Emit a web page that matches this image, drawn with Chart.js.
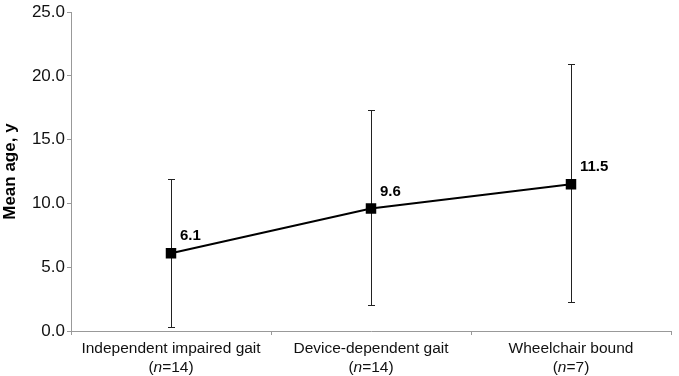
<!DOCTYPE html>
<html><head><meta charset="utf-8">
<script src="https://cdn.jsdelivr.net/npm/chart.js@4"></script>
<style>html,body{margin:0;padding:0;background:#fff}#wrap{width:679px;height:376px}</style>
</head><body><div id="wrap"><canvas id="c" width="679" height="376"></canvas></div>
<script>
const categories = ["Independent impaired gait", "Device-dependent gait", "Wheelchair bound"];
const sampleSizes = [14, 14, 7];
const meanAge = [6.1, 9.6, 11.5];
const errLow = [0.35, 2.0, 2.3];
const errHigh = [11.9, 17.3, 20.9];
const yMin = 0, yMax = 25, yStep = 5;

const FONT = '"Liberation Sans", Arial, Helvetica, sans-serif';

const errorBars = {
  id: 'errorBars',
  beforeDatasetsDraw(chart) {
    const ctx = chart.ctx, x = chart.scales.x, y = chart.scales.y;
    ctx.save();
    ctx.strokeStyle = '#222';
    ctx.lineWidth = 1;
    meanAge.forEach((v, i) => {
      const px = Math.round(x.getPixelForValue(i)) + 0.5;
      const t = Math.round(y.getPixelForValue(errHigh[i])) + 0.5;
      const b = Math.round(y.getPixelForValue(errLow[i])) + 0.5;
      ctx.beginPath();
      ctx.moveTo(px, t); ctx.lineTo(px, b);
      ctx.moveTo(px - 3.5, t); ctx.lineTo(px + 3.5, t);
      ctx.moveTo(px - 3.5, b); ctx.lineTo(px + 3.5, b);
      ctx.stroke();
    });
    ctx.restore();
  },
  afterDatasetsDraw(chart) {
    const ctx = chart.ctx, x = chart.scales.x, y = chart.scales.y;
    ctx.save();
    ctx.fillStyle = '#000';
    ctx.font = 'bold 15px ' + FONT;
    ctx.textAlign = 'left';
    ctx.textBaseline = 'alphabetic';
    meanAge.forEach((v, i) => {
      ctx.fillText(v.toFixed(1), x.getPixelForValue(i) + 9, y.getPixelForValue(v) - 13);
    });
    const F = '15.5px ' + FONT, FI = 'italic 15.5px ' + FONT;
    ctx.fillStyle = '#111';
    categories.forEach((c, i) => {
      const cx = x.getPixelForValue(i);
      ctx.textAlign = 'center';
      ctx.font = F;
      ctx.fillText(c, cx, 353);
      const p1 = '(', p2 = 'n', p3 = '=' + sampleSizes[i] + ')';
      ctx.font = F;
      const w1 = ctx.measureText(p1).width, w3 = ctx.measureText(p3).width;
      ctx.font = FI;
      const w2 = ctx.measureText(p2).width;
      let sx = cx - (w1 + w2 + w3) / 2;
      ctx.textAlign = 'left';
      ctx.font = F;
      ctx.fillText(p1, sx, 372);
      ctx.font = FI;
      ctx.fillText(p2, sx + w1, 372);
      ctx.font = F;
      ctx.fillText(p3, sx + w1 + w2, 372);
    });
    ctx.restore();
  }
};

new Chart(document.getElementById('c'), {
  type: 'line',
  data: {
    labels: categories,
    datasets: [{
      data: meanAge,
      borderColor: '#000',
      borderWidth: 2,
      pointStyle: 'rect',
      pointRadius: 6,
      pointBackgroundColor: '#000',
      pointBorderColor: '#000',
      tension: 0
    }]
  },
  options: {
    responsive: false,
    animation: false,
    devicePixelRatio: 1,
    layout: { padding: { top: 10, right: 4, left: 0, bottom: 0 } },
    plugins: { legend: { display: false }, tooltip: { enabled: false } },
    scales: {
      x: {
        type: 'category',
        offset: true,
        grid: { display: true, offset: true, drawOnChartArea: false, drawTicks: true, tickLength: 4, color: '#999' },
        border: { display: true, color: '#999', width: 1 },
        ticks: { display: false },
        afterFit(s) { s.height = 45; }
      },
      y: {
        min: yMin, max: yMax,
        grid: { display: true, drawOnChartArea: false, drawTicks: true, tickLength: 4, color: '#999' },
        border: { display: true, color: '#999', width: 1 },
        ticks: {
          stepSize: yStep,
          color: '#111',
          font: { family: FONT, size: 17 },
          padding: 2,
          callback: v => Number(v).toFixed(1)
        },
        title: {
          display: true, text: 'Mean age, y', color: '#000',
          font: { family: FONT, size: 17, weight: 'bold' },
          padding: { top: 0, bottom: 4 }
        },
        afterFit(s) { s.width = 71; }
      }
    }
  },
  plugins: [errorBars]
});
</script>
</body></html>
